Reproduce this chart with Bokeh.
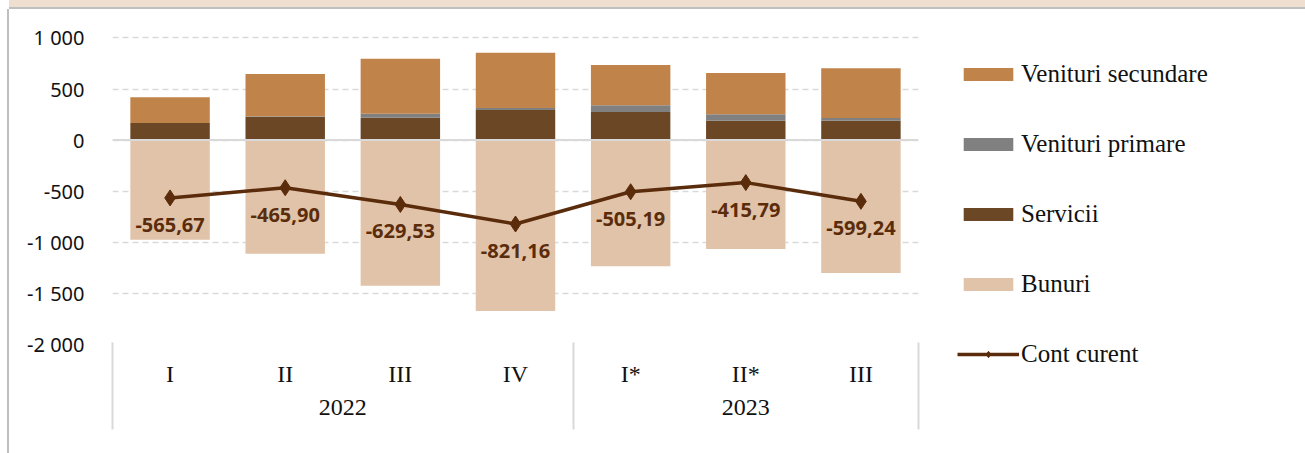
from bokeh.plotting import figure
from bokeh.models import (FactorRange, Range1d, ColumnDataSource, FixedTicker, Span,
                          Legend, LegendItem, LinearAxis)
from bokeh.core.properties import value
from bokeh.embed import file_html
from bokeh.resources import INLINE

# ---------------- data ----------------
years = ["2022", "2022", "2022", "2022", "2023", "2023", "2023"]
quarters = ["I", "II", "III", "IV", "I*", "II*", "III"]
venituri_secundare = [253, 414, 539, 542, 395, 405, 487]
venituri_primare = [0, 5, 39, 20, 65, 63, 27]
servicii = [167, 228, 219, 294, 275, 189, 189]
bunuri = [-975, -1111, -1425, -1673, -1235, -1065, -1301]
cont_curent = [-565.67, -465.90, -629.53, -821.16, -505.19, -415.79, -599.24]
y_ticks = [-2000, -1500, -1000, -500, 0, 500, 1000]
y_tick_labels = ["-2 000", "-1 500", "-1 000", "-500", "0", "500", "1 000"]

# ---------------- styles ----------------
C_SEC = "#C0834A"
C_PRIM = "#808080"
C_SERV = "#6B4726"
C_BUN = "#E0C3A8"
C_CC = "#5B2C0B"
GRID = "#D9D9D9"
SERIF = "Liberation Serif"
SANS = "Noto Sans"

factors = list(zip(years, quarters))
x_range = FactorRange(*factors, group_padding=0, factor_padding=0, subgroup_padding=0,
                      range_padding=0)

labels = [f"{v:.2f}".replace(".", ",") for v in cont_curent]
src = ColumnDataSource(dict(x=factors, sec=venituri_secundare, prim=venituri_primare,
                            serv=servicii, bun=bunuri, cc=cont_curent, lbl=labels))

p = figure(x_range=x_range, y_range=Range1d(-2000, 1190),
           frame_width=806, frame_height=326,
           output_backend="svg", toolbar_location=None,
           min_border_left=103, min_border_right=382, min_border_top=9, min_border_bottom=109)
p.outline_line_color = None
p.background_fill_color = "white"
p.border_fill_color = "white"
p.styles = {"margin-left": "9px", "margin-top": "9px",
            "box-shadow": "-2px 0 0 0 #BFBFBF, 2px 0 0 0 #BFBFBF, 0 -2px 0 0 #BFBFBF, 0 -9px 0 0 #EFDFD0"}

BW = 0.69
stack = p.vbar_stack(["serv", "prim", "sec"], x="x", width=BW, source=src,
                     fill_color=[C_SERV, C_PRIM, C_SEC], line_color=None)
r_bun = p.vbar(x="x", top="bun", bottom=0, width=BW, source=src, fill_color=C_BUN, line_color=None)

p.add_layout(Span(location=0, dimension="width", line_color=GRID, line_width=2))

r_line = p.line(x="x", y="cc", source=src, line_color=C_CC, line_width=3.5)
r_pts = p.scatter(x="x", y="cc", source=src, marker="diamond", size=16,
                  fill_color=C_CC, line_color=C_CC)
p.text(x="x", y="cc", text="lbl", source=src, text_align="center", text_baseline="middle",
       y_offset=27, text_font=value(SANS), text_font_style="bold", text_font_size="20px",
       text_color=C_CC)

# y axis
p.yaxis.ticker = FixedTicker(ticks=y_ticks)
p.yaxis.major_label_overrides = dict(zip(y_ticks, y_tick_labels))
p.yaxis.axis_line_color = None
p.yaxis.major_tick_line_color = None
p.yaxis.minor_tick_line_color = None
p.yaxis.major_label_standoff = 22
p.yaxis.major_label_text_font = SANS
p.yaxis.major_label_text_font_size = "20px"
p.yaxis.major_label_text_color = "#111111"

p.ygrid.ticker = FixedTicker(ticks=y_ticks)
p.ygrid.grid_line_color = GRID
p.ygrid.grid_line_dash = "6 4"
p.ygrid.grid_line_width = 1.5
p.xgrid.visible = False

# x axis (quarters / years)
xa = p.xaxis[0]
xa.axis_line_color = None
xa.major_tick_line_color = None
xa.minor_tick_line_color = None
xa.separator_line_color = None
xa.major_label_standoff = 10
xa.major_label_text_font = SERIF
xa.major_label_text_font_size = "24px"
xa.major_label_text_color = "#111111"
xa.group_text_font = SERIF
xa.group_text_font_size = "24px"
xa.group_text_font_style = "normal"
xa.group_text_color = "#111111"

# separator lines of the year groups (ticks of an auxiliary axis at the group edges,
# in the synthetic coordinates of the factor range)
n_first = years.count(years[0])
sep_ticks = [0, n_first, len(factors)]
sep_axis = LinearAxis(ticker=FixedTicker(ticks=sep_ticks),
                      major_label_overrides={t: "" for t in sep_ticks},
                      axis_line_color=None, minor_tick_line_color=None,
                      major_tick_line_color=GRID, major_tick_line_width=2,
                      major_tick_in=75, major_tick_out=12, major_label_standoff=0,
                      major_label_text_font_size="1px")
p.add_layout(sep_axis, "below")

legend = Legend(items=[
    LegendItem(label="Venituri secundare", renderers=[stack[2]]),
    LegendItem(label="Venituri primare", renderers=[stack[1]]),
    LegendItem(label="Servicii", renderers=[stack[0]]),
    LegendItem(label="Bunuri", renderers=[r_bun]),
    LegendItem(label="Cont curent", renderers=[r_line, r_pts]),
], location="top_left", glyph_width=62, glyph_height=16, label_height=34, spacing=36,
   margin=39, padding=0, label_standoff=2, border_line_color=None,
   background_fill_alpha=0, label_text_font=SERIF, label_text_font_size="25px",
   label_text_color="#111111")
p.add_layout(legend, "right")

open("out.html", "w").write(file_html(p, INLINE))
